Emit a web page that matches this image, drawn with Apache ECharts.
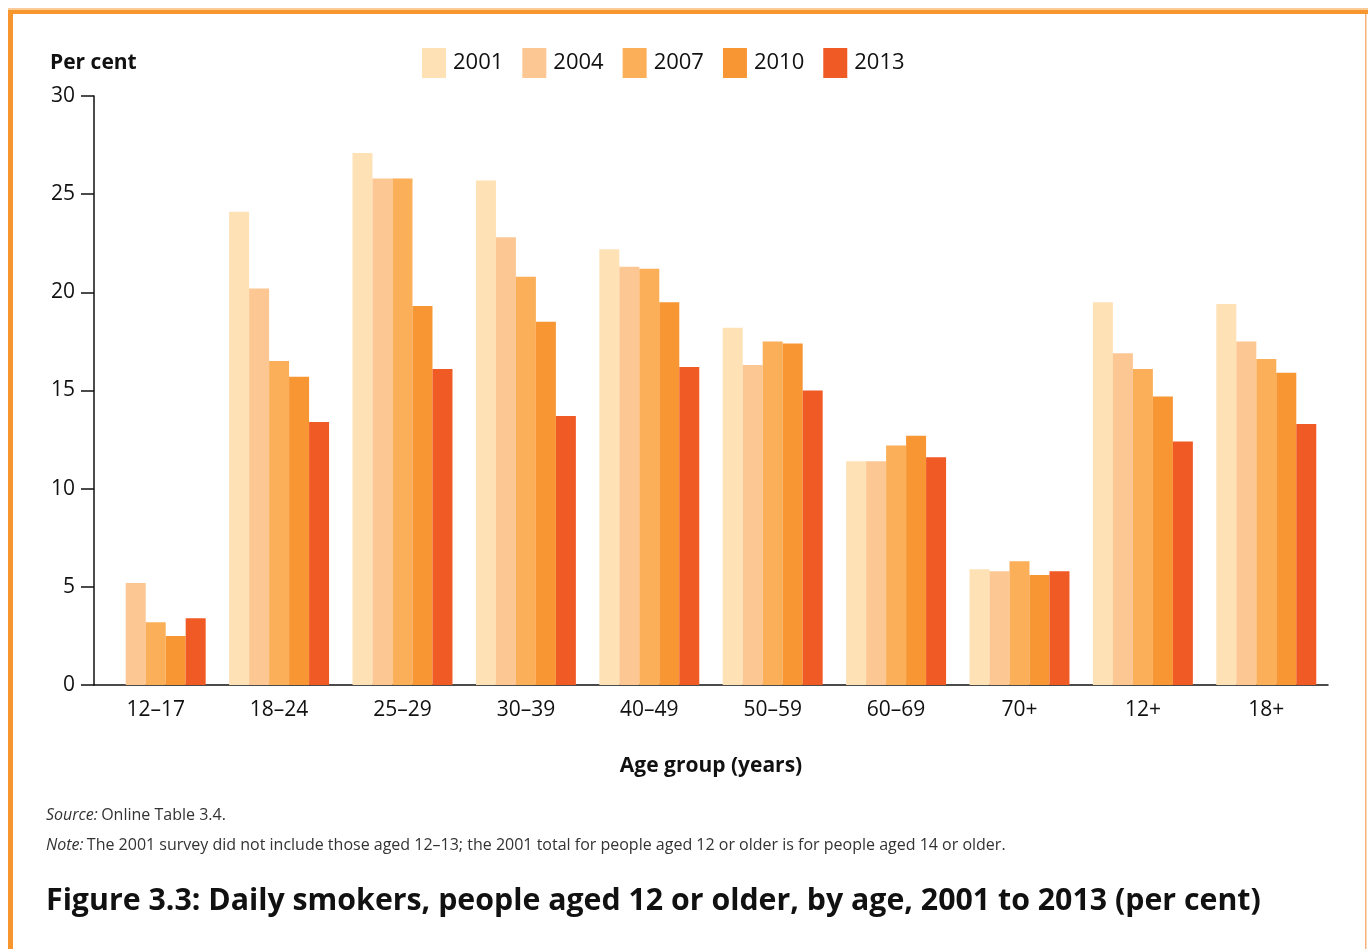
<!DOCTYPE html>
<html><head><meta charset="utf-8">
<script src="https://cdn.jsdelivr.net/npm/echarts@6/dist/echarts.min.js"></script>
<style>html,body{margin:0;padding:0;background:#fff}#c{width:1368px;height:949px}</style>
</head><body><div id="c"></div>
<script>
const categories = ['12–17','18–24','25–29','30–39','40–49','50–59','60–69','70+','12+','18+'];
const years = ['2001','2004','2007','2010','2013'];
const v2001 = [null,24.1,27.1,25.7,22.2,18.2,11.4,5.9,19.5,19.4];
const v2004 = [5.2,20.2,25.8,22.8,21.3,16.3,11.4,5.8,16.9,17.5];
const v2007 = [3.2,16.5,25.8,20.8,21.2,17.5,12.2,6.3,16.1,16.6];
const v2010 = [2.5,15.7,19.3,18.5,19.5,17.4,12.7,5.6,14.7,15.9];
const v2013 = [3.4,13.4,16.1,13.7,16.2,15.0,11.6,5.8,12.4,13.3];
const yTicks = [0,5,10,15,20,25,30];
const colors = ['#FEE1B5','#FDC794','#FBAF59','#F79633','#F05A25'];
const seriesValues = [v2001,v2004,v2007,v2010,v2013];
const FONT = '"Open Sans", "Noto Sans", sans-serif';

const chart = echarts.init(document.getElementById('c'), null, {renderer:'canvas'});
chart.setOption({
  animation:false,
  textStyle:{fontFamily:FONT},
  grid:{left:94,right:40,top:96,bottom:264,containLabel:false},
  legend:{
    data:years, left:417, top:43, itemWidth:24, itemHeight:30, itemGap:19,
    icon:'rect', selectedMode:false,
    textStyle:{fontSize:22,color:'#111',fontFamily:FONT,padding:[0,0,0,2]}
  },
  xAxis:{
    type:'category', data:categories,
    axisLine:{lineStyle:{color:'#111',width:1.5}},
    axisTick:{show:false},
    axisLabel:{fontSize:21,color:'#111',margin:15,fontFamily:FONT},
    name:'Age group (years)', nameLocation:'middle', nameGap:71,
    nameTextStyle:{fontSize:21,fontWeight:'bold',color:'#111',fontFamily:FONT}
  },
  yAxis:{
    type:'value', min:yTicks[0], max:yTicks[yTicks.length-1], interval:5,
    axisLine:{show:true,lineStyle:{color:'#111',width:1.5}},
    axisTick:{show:true,inside:false,length:13,lineStyle:{color:'#111',width:1.5}},
    axisLabel:{fontSize:21,color:'#111',margin:19,fontFamily:FONT},
    splitLine:{show:false}
  },
  series: years.map((y,i)=>({
    name:y, type:'bar', data:seriesValues[i],
    barGap:'0%', barCategoryGap:'19%',
    itemStyle:{color:colors[i]}
  })),
  graphic:[
    {type:'rect',shape:{x:8,y:8,width:1360,height:2},style:{fill:'#FCCB98'},silent:true},
    {type:'rect',shape:{x:8,y:10,width:1360,height:4},style:{fill:'#F7962F'},silent:true},
    {type:'rect',shape:{x:8,y:10,width:5,height:939},style:{fill:'#F7962F'},silent:true},
    {type:'rect',shape:{x:1365,y:14,width:1.5,height:935},style:{fill:'#F6B27A'},silent:true},
    {type:'text',left:50,top:53,style:{text:'Per cent',font:'bold 21px '+FONT,fill:'#111'}},
    {type:'text',left:46,top:807,style:{rich:{i:{fontStyle:'italic',fontSize:16,fontFamily:FONT,fill:'#333'},n:{fontSize:16,fontFamily:FONT,fill:'#333'}},text:'{i|Source:} {n|Online Table 3.4.}'}},
    {type:'text',left:46,top:837,style:{rich:{i:{fontStyle:'italic',fontSize:16,fontFamily:FONT,fill:'#333'},n:{fontSize:16,fontFamily:FONT,fill:'#333'}},text:'{i|Note:} {n|The 2001 survey did not include those aged 12–13; the 2001 total for people aged 12 or older is for people aged 14 or older.}'}},
    {type:'text',left:46,top:886,style:{text:'Figure 3.3: Daily smokers, people aged 12 or older, by age, 2001 to 2013 (per cent)',font:'bold 30.3px '+FONT,fill:'#111'}}
  ]
});
</script></body></html>
